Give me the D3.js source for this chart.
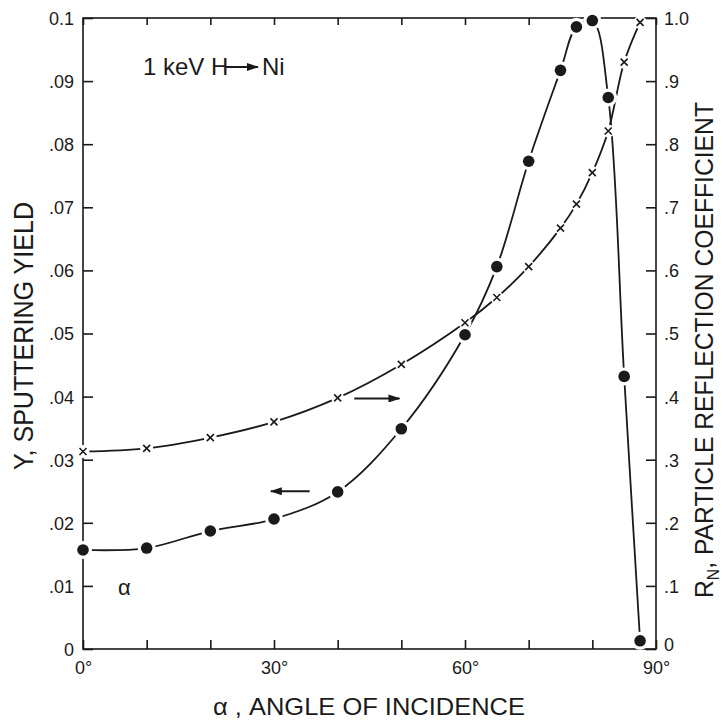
<!DOCTYPE html>
<html>
<head>
<meta charset="utf-8">
<script src="https://cdn.jsdelivr.net/npm/d3@7"></script>
<style>
  html, body { margin: 0; padding: 0; background: #fff; }
  svg { display: block; }
  text { font-family: "Liberation Sans", "DejaVu Sans", sans-serif; fill: #1a1a1a; }
</style>
</head>
<body>
<div id="chart"></div>
<script>
// sputtering yield Y (left axis), filled dots
const yieldAngles = [0, 10, 20, 30, 40, 50, 60, 65, 70, 75, 77.5, 80, 82.5, 85, 87.5];
const yieldValues = [0.0157, 0.0160, 0.0187, 0.0206, 0.0249, 0.0349, 0.0498, 0.0606, 0.0773, 0.0917, 0.0986, 0.0996, 0.0874, 0.0432, 0.0013];
// particle reflection coefficient R_N (right axis), crosses
const reflAngles = [0, 10, 20, 30, 40, 50, 60, 65, 70, 75, 77.5, 80, 82.5, 85, 87.5];
const reflValues = [0.313, 0.318, 0.335, 0.360, 0.398, 0.451, 0.517, 0.557, 0.606, 0.667, 0.705, 0.755, 0.821, 0.930, 0.993];

const xTicks = [0, 10, 20, 30, 40, 50, 60, 70, 80, 90];
const xLabelled = [0, 30, 60, 90];
const yLeftTicks = [0, 0.01, 0.02, 0.03, 0.04, 0.05, 0.06, 0.07, 0.08, 0.09, 0.1];
const yLeftLabels = ['0', '.01', '.02', '.03', '.04', '.05', '.06', '.07', '.08', '.09', '0.1'];
const yRightTicks = [0, 0.1, 0.2, 0.3, 0.4, 0.5, 0.6, 0.7, 0.8, 0.9, 1.0];
const yRightLabels = ['0', '.1', '.2', '.3', '.4', '.5', '.6', '.7', '.8', '.9', '1.0'];

const width = 726, height = 727;
const m = { left: 83, right: 656, top: 18, bottom: 649 };
const ink = '#1a1a1a';

const svg = d3.select('#chart').append('svg').attr('width', width).attr('height', height);

const x = d3.scaleLinear([0, 90], [m.left, m.right]);
const yL = d3.scaleLinear([0, 0.1], [m.bottom, m.top]);
const yR = d3.scaleLinear([0, 1], [m.bottom, m.top]);

const defs = svg.append('defs');
defs.append('marker').attr('id', 'head').attr('viewBox', '0 0 12 8').attr('refX', 11).attr('refY', 4)
  .attr('markerWidth', 12).attr('markerHeight', 8).attr('markerUnits', 'userSpaceOnUse').attr('orient', 'auto')
  .append('path').attr('d', 'M0,0 L12,4 L0,8 Z').attr('fill', ink);

// frame
svg.append('rect').attr('x', m.left).attr('y', m.top).attr('width', m.right - m.left).attr('height', m.bottom - m.top)
  .attr('fill', 'none').attr('stroke', ink).attr('stroke-width', 1.6);

const fmtLeft = (d) => yLeftLabels[yLeftTicks.indexOf(d)];
const fmtRight = (d) => yRightLabels[yRightTicks.indexOf(d)];

const axL = svg.append('g').attr('transform', `translate(${m.left},0)`)
  .call(d3.axisLeft(yL).tickValues(yLeftTicks).tickSize(-10).tickPadding(9).tickFormat(fmtLeft));
const axR = svg.append('g').attr('transform', `translate(${m.right},0)`)
  .call(d3.axisRight(yR).tickValues(yRightTicks).tickSize(-10).tickPadding(8).tickFormat(fmtRight));
const axB = svg.append('g').attr('transform', `translate(0,${m.bottom})`)
  .call(d3.axisBottom(x).tickValues(xTicks).tickSize(-9).tickPadding(12)
    .tickFormat((d) => (xLabelled.includes(d) ? d + '°' : '')));
const axT = svg.append('g').attr('transform', `translate(0,${m.top})`)
  .call(d3.axisTop(x).tickValues(xTicks).tickSize(-7).tickFormat(''));
for (const ax of [axL, axR, axB, axT]) {
  ax.select('.domain').remove();
  ax.selectAll('line').attr('stroke', ink).attr('stroke-width', 1.6);
  ax.selectAll('text').attr('font-size', 18).attr('fill', ink).style('font-family', '"Liberation Sans", sans-serif');
}
axL.selectAll('text').attr('dy', '0.36em');
axR.selectAll('text').attr('dy', (d) => (d === 0 ? '0.1em' : '0.36em'));

// curves
const yieldPts = yieldAngles.map((a, i) => [x(a), yL(yieldValues[i])]);
const reflPts = reflAngles.map((a, i) => [x(a), yR(reflValues[i])]);
const line = d3.line().curve(d3.curveCatmullRom.alpha(0.5));
svg.append('path').attr('d', line(reflPts)).attr('fill', 'none').attr('stroke', ink).attr('stroke-width', 1.8);
svg.append('path').attr('d', line(yieldPts)).attr('fill', 'none').attr('stroke', ink).attr('stroke-width', 1.8);

// gaps around the markers
svg.append('g').selectAll('circle').data(reflPts).join('circle')
  .attr('cx', (d) => d[0]).attr('cy', (d) => d[1]).attr('r', 6.5).attr('fill', '#fff');
svg.append('g').selectAll('circle').data(yieldPts).join('circle')
  .attr('cx', (d) => d[0]).attr('cy', (d) => d[1]).attr('r', 9).attr('fill', '#fff');

// crosses
svg.append('g').selectAll('path').data(reflPts).join('path')
  .attr('d', (d) => `M${d[0] - 3.5},${d[1] - 3.5}L${d[0] + 3.5},${d[1] + 3.5}M${d[0] - 3.5},${d[1] + 3.5}L${d[0] + 3.5},${d[1] - 3.5}`)
  .attr('stroke', ink).attr('stroke-width', 1.6).attr('fill', 'none');
// dots
svg.append('g').selectAll('circle').data(yieldPts).join('circle')
  .attr('cx', (d) => d[0]).attr('cy', (d) => d[1]).attr('r', 5.8).attr('fill', ink);

// direction arrows
svg.append('line').attr('x1', x(42.6)).attr('x2', x(49.7)).attr('y1', yR(0.397)).attr('y2', yR(0.397))
  .attr('stroke', ink).attr('stroke-width', 2).attr('marker-end', 'url(#head)');
svg.append('line').attr('x1', x(35.6)).attr('x2', x(29.5)).attr('y1', yL(0.0250)).attr('y2', yL(0.0250))
  .attr('stroke', ink).attr('stroke-width', 2).attr('marker-end', 'url(#head)');

// in-plot labels
svg.append('text').attr('x', 143).attr('y', 75).attr('font-size', 24).text('1 keV H');
svg.append('line').attr('x1', 226).attr('x2', 258).attr('y1', 67).attr('y2', 67)
  .attr('stroke', ink).attr('stroke-width', 2).attr('marker-end', 'url(#head)');
svg.append('text').attr('x', 262).attr('y', 75).attr('font-size', 24).text('Ni');
svg.append('text').attr('x', 118).attr('y', 595).attr('font-size', 22).text('α');

// axis titles
svg.append('text').attr('x', 213).attr('y', 715).attr('font-size', 24)
  .attr('textLength', 312).attr('lengthAdjust', 'spacingAndGlyphs').text('α , ANGLE OF INCIDENCE');
svg.append('text').attr('transform', 'translate(33,470) rotate(-90)').attr('font-size', 27)
  .attr('textLength', 268).attr('lengthAdjust', 'spacingAndGlyphs').text('Y, SPUTTERING YIELD');
const rt = svg.append('text').attr('transform', 'translate(713,598) rotate(-90)').attr('font-size', 25)
  .attr('textLength', 496).attr('lengthAdjust', 'spacingAndGlyphs');
rt.append('tspan').text('R');
rt.append('tspan').attr('font-size', 16).attr('dy', 6).text('N');
rt.append('tspan').attr('dy', -6).text(', PARTICLE  REFLECTION  COEFFICIENT');
</script>
</body>
</html>
